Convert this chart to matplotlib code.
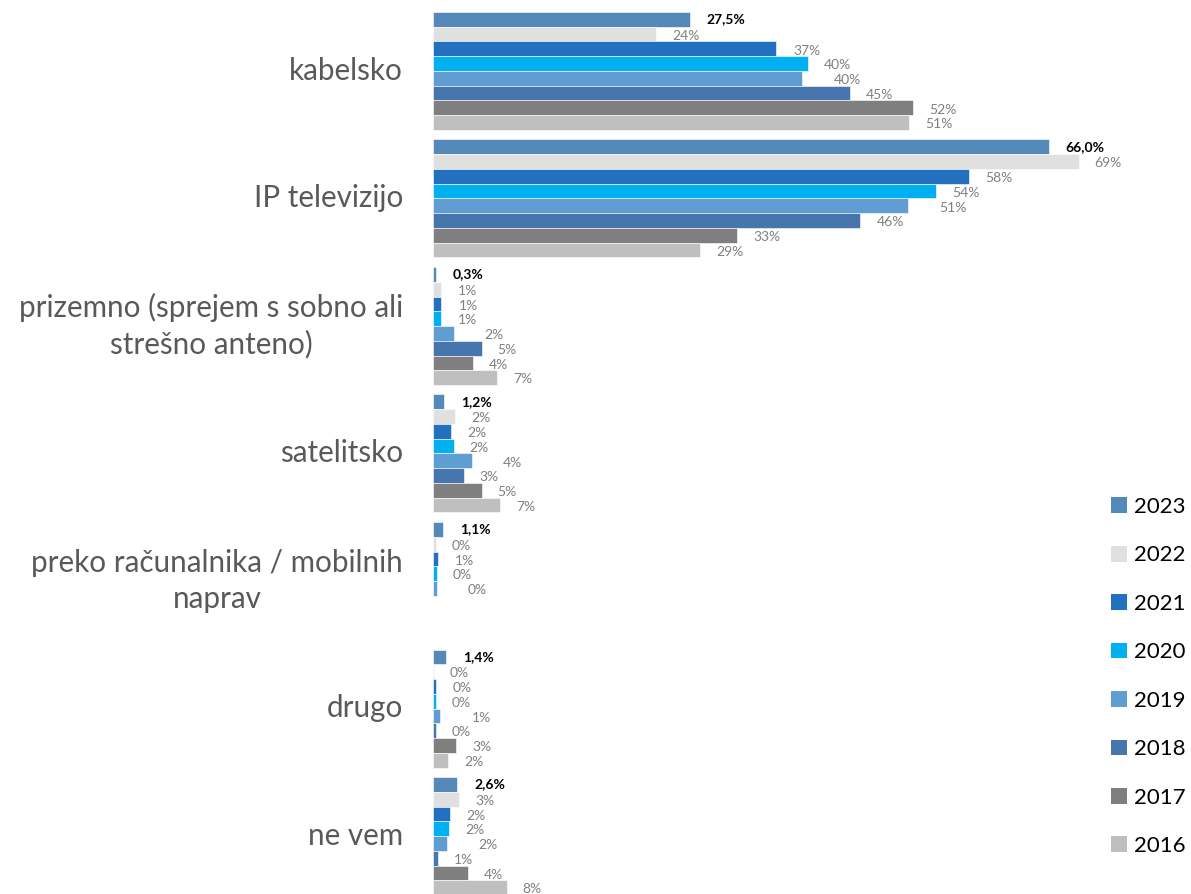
import matplotlib
matplotlib.use("Agg")
import matplotlib.pyplot as plt
from matplotlib.patches import Patch

categories = ["kabelsko", "IP televizijo", "prizemno (sprejem s sobno ali\nstrešno anteno)",
              "satelitsko", "preko računalnika / mobilnih\nnaprav", "drugo", "ne vem"]
years = ["2023", "2022", "2021", "2020", "2019", "2018", "2017", "2016"]

# values per year (None = not asked)
v2023 = [27.5, 66.0, 0.3, 1.2, 1.1, 1.4, 2.6]
v2022 = [23.9, 69.2, 0.9, 2.4, 0.3, 0.1, 2.8]
v2021 = [36.8, 57.4, 0.9, 1.9, 0.5, 0.3, 1.8]
v2020 = [40.2, 53.9, 0.9, 2.2, 0.4, 0.3, 1.7]
v2019 = [39.6, 50.9, 2.2, 4.2, 0.4, 0.8, 1.5]
v2018 = [44.7, 45.8, 5.2, 3.3, None, 0.3, 0.5]
v2017 = [51.5, 32.6, 4.3, 5.2, None, 2.5, 3.7]
v2016 = [51.0, 28.6, 6.9, 7.2, None, 1.6, 7.9]

labels2023 = ["27,5%", "66,0%", "0,3%", "1,2%", "1,1%", "1,4%", "2,6%"]
labels2022 = ["24%", "69%", "1%", "2%", "0%", "0%", "3%"]
labels2021 = ["37%", "58%", "1%", "2%", "1%", "0%", "2%"]
labels2020 = ["40%", "54%", "1%", "2%", "0%", "0%", "2%"]
labels2019 = ["40%", "51%", "2%", "4%", "0%", "1%", "2%"]
labels2018 = ["45%", "46%", "5%", "3%", None, "0%", "1%"]
labels2017 = ["52%", "33%", "4%", "5%", None, "3%", "4%"]
labels2016 = ["51%", "29%", "7%", "7%", None, "2%", "8%"]

series = [v2023, v2022, v2021, v2020, v2019, v2018, v2017, v2016]
series_labels = [labels2023, labels2022, labels2021, labels2020, labels2019,
                 labels2018, labels2017, labels2016]

colors = ["#5589B9", "#E0E0E0", "#2270BE", "#00B0F0", "#5F9DD3", "#4775AE", "#7F7F7F", "#BFBFBF"]
label_offsets_px = [17, 16, 17, 16, 31, 16, 16, 16]

FONT = ["Lato", "DejaVu Sans"]
plt.rcParams['font.family'] = FONT

W, H = 1191, 894
fig = plt.figure(figsize=(W / 100, H / 100), dpi=100)

px_per_unit_x = 9.33
x0 = 433
ax_right = 1100
ax = fig.add_axes([x0 / W, 0, (ax_right - x0) / W, 1])
ax.set_xlim(0, (ax_right - x0) / px_per_unit_x)

bar_px = 14.75
group_pitch = 127.5 / bar_px
top_px = 12
ax.set_ylim((H - top_px) / bar_px, -top_px / bar_px)
ax.axis("off")

nser = len(series)
for j, (vals, labs) in enumerate(zip(series, series_labels)):
    for i, (v, lab) in enumerate(zip(vals, labs)):
        if v is None:
            continue
        yc = i * group_pitch + j + 0.5
        ax.barh(yc, v, height=1.0, color=colors[j], edgecolor="white", linewidth=0.4)
        if j == 0:
            ax.annotate(lab, (v, yc), xytext=(label_offsets_px[j] * 0.72, 0),
                        textcoords="offset points", ha="left", va="center",
                        fontsize=10, fontweight="bold", color="black")
        else:
            ax.annotate(lab, (v, yc), xytext=(label_offsets_px[j] * 0.72, -1.2),
                        textcoords="offset points", ha="left", va="center",
                        fontsize=10, color="#808080")

for i, cat in enumerate(categories):
    yc = i * group_pitch + nser / 2
    ax.annotate(cat, (0, yc), xytext=(-30 * 0.72, 0), textcoords="offset points",
                ha="right", va="center", multialignment="center",
                fontsize=21.3, color="#595959", linespacing=1.33)

handles = [Patch(facecolor=c, edgecolor="none") for c in colors]
leg = fig.legend(handles, years, loc="upper left", bbox_to_anchor=(1111 / W, 1 - 497 / H),
                 frameon=False, fontsize=16, handlelength=0.72, handleheight=0.72,
                 handletextpad=0.3, labelspacing=1.28, borderaxespad=0, borderpad=0)

fig.savefig("out.png", dpi=100)
